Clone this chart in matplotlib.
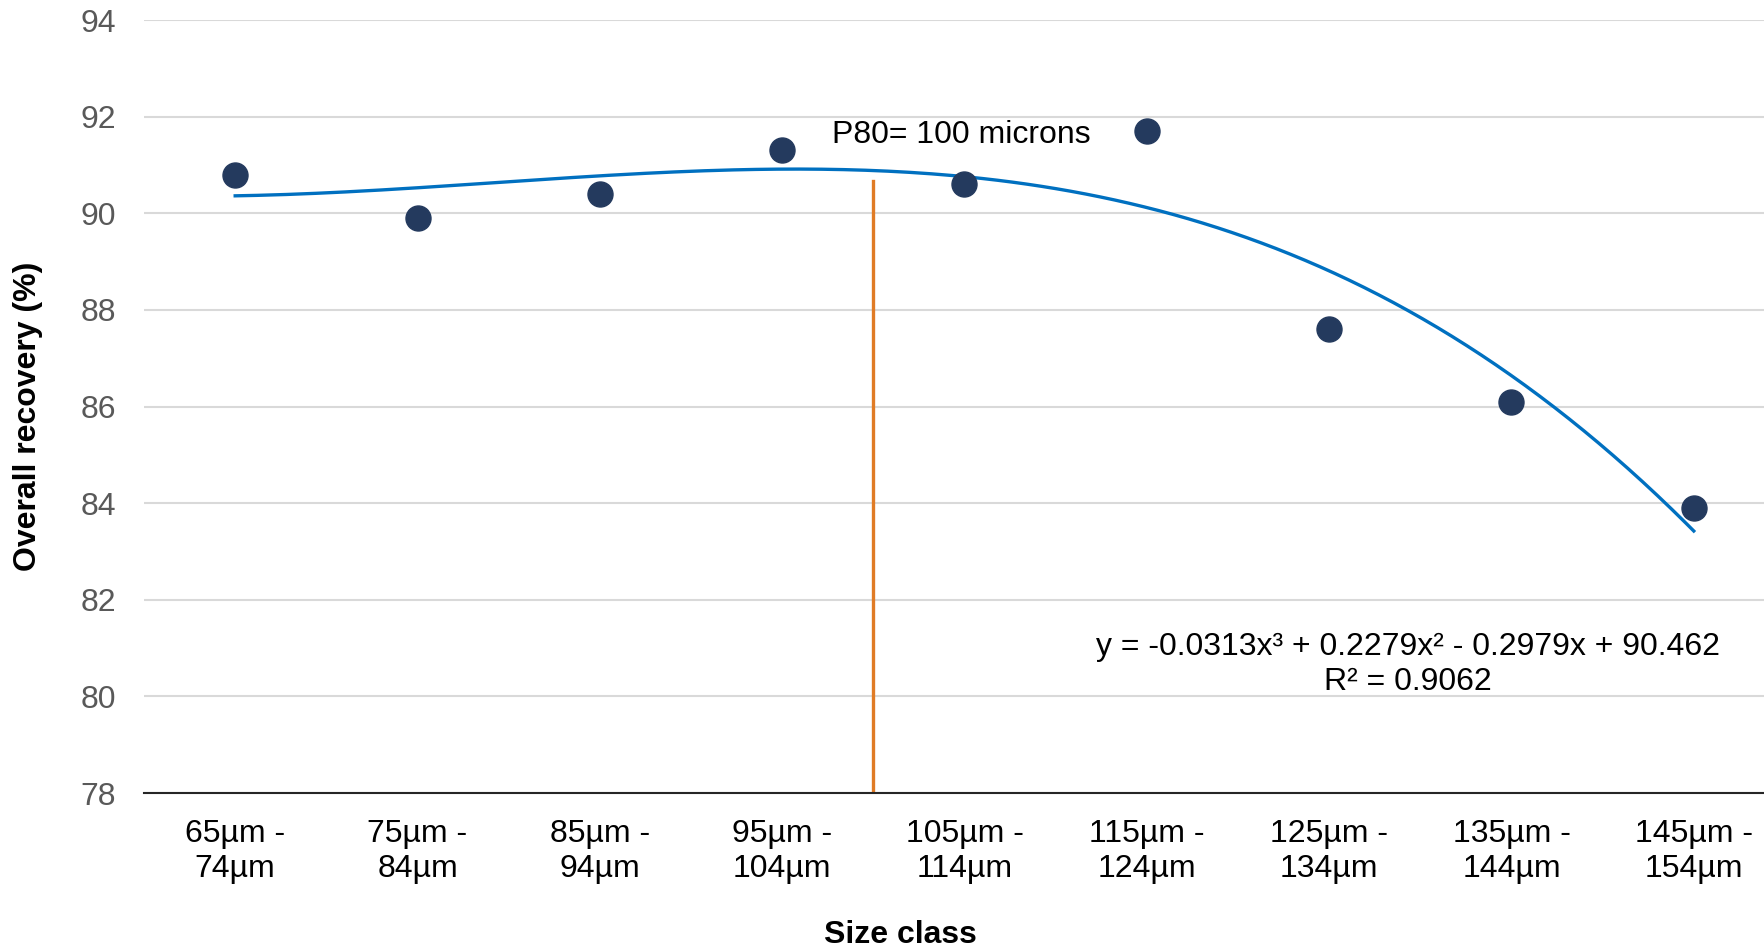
import numpy as np
import matplotlib
matplotlib.use("Agg")
import matplotlib.pyplot as plt

plt.rcParams["font.family"] = ["Liberation Sans", "DejaVu Sans"]

size_classes = ["65µm -\n74µm", "75µm -\n84µm", "85µm -\n94µm", "95µm -\n104µm",
                "105µm -\n114µm", "115µm -\n124µm", "125µm -\n134µm", "135µm -\n144µm",
                "145µm -\n154µm"]
recovery = [90.8, 89.9, 90.4, 91.3, 90.6, 91.7, 87.6, 86.1, 83.9]

# cubic trendline as printed on the chart (x = 1..9)
trend_coef = [-0.0313, 0.2279, -0.2979, 90.462]
r_squared = 0.9062

p80_pos = 3.5      # between 95-104 and 105-114 classes
p80_top = 90.67

fig = plt.figure(figsize=(17.65, 9.48), dpi=100)
ax = fig.add_axes([0.0816, 0.1635, 0.9297, 0.8154])

xpos = np.arange(len(size_classes))
xs = np.linspace(1, len(size_classes), 200)
ax.plot(xs - 1, np.polyval(trend_coef, xs), color="#0070C0", lw=2.4, zorder=3)
ax.plot(xpos, recovery, "o", color="#243A5E", ms=18, zorder=4)
ax.plot([p80_pos, p80_pos], [78, p80_top], color="#E07B25", lw=2.4, zorder=2)

ax.text(3.98, 91.62, "P80= 100 microns", fontsize=23, ha="center", va="center")
ax.text(6.43, 80.66,
        "y = -0.0313x³ + 0.2279x² - 0.2979x + 90.462\nR² = %.4f" % r_squared,
        fontsize=23, ha="center", va="center", linespacing=1.2)

ax.set_xlim(-0.5, 8.5)
ax.set_ylim(78, 94)
ax.set_yticks(np.arange(78, 95, 2))
ax.set_xticks(xpos)
ax.set_xticklabels(size_classes, fontsize=23, linespacing=1.2)
ax.tick_params(axis="y", labelsize=23, labelcolor="#595959", length=0, pad=20)
ax.tick_params(axis="x", length=0, pad=19)

ax.grid(axis="y", color="#D9D9D9", lw=1.5)
ax.set_axisbelow(True)
for s in ["top", "right", "left"]:
    ax.spines[s].set_visible(False)
ax.spines["bottom"].set_color("#262626")
ax.spines["bottom"].set_linewidth(1.5)

ax.set_ylabel("Overall recovery (%)", fontsize=23, fontweight="bold", va="center")
ax.yaxis.set_label_coords(-0.0707, 0.487)
ax.set_xlabel("Size class", fontsize=23, fontweight="bold", va="center")
ax.xaxis.set_label_coords(0.4607, -0.184)

fig.savefig("out.png", dpi=100)
